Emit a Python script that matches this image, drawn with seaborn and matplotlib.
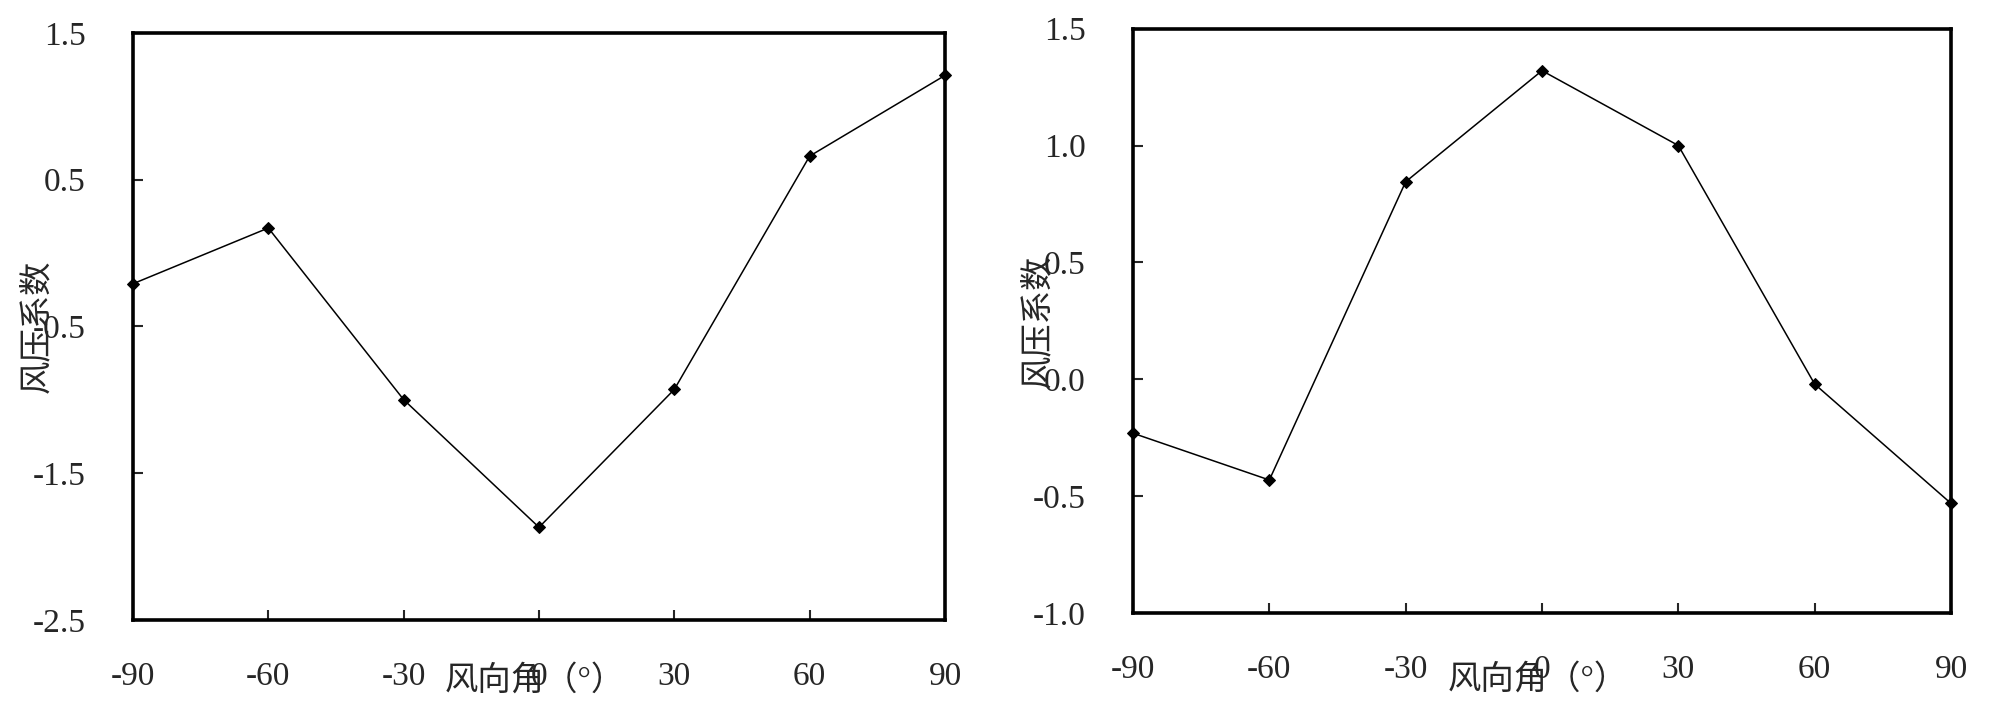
import numpy as np
import pandas as pd
import seaborn as sns
import matplotlib.pyplot as plt

# 风向角与风压系数 (两个测点)
angles = [-90, -60, -30, 0, 30, 60, 90]
cp_left = [-0.21, 0.17, -1.0, -1.87, -0.93, 0.66, 1.21]
cp_right = [-0.23, -0.43, 0.845, 1.32, 1.0, -0.02, -0.53]

left_yticks = [1.5, 0.5, -0.5, -1.5, -2.5]
left_yticklabels = ['1.5', '0.5', '-0.5', '-1.5', '-2.5']
right_yticks = [1.5, 1.0, 0.5, 0.0, -0.5, -1.0]
right_yticklabels = ['1.5', '1.0', '0.5', '0.0', '-0.5', '-1.0']

sns.set_style('ticks')
plt.rcParams['font.family'] = ['Liberation Serif', 'Noto Sans CJK SC', 'DejaVu Sans']

fig = plt.figure(figsize=(20, 7.14), dpi=100)
ax1 = fig.add_axes([0.0665, 0.132, 0.406, 0.822])
ax2 = fig.add_axes([0.5665, 0.141, 0.409, 0.819])

def draw(ax, y, yticks, yticklabels, ylim, xlab_pos, ylab_pos):
    df = pd.DataFrame({'angle': angles, 'cp': y})
    sns.lineplot(data=df, x='angle', y='cp', ax=ax, color='black', lw=1.1,
                 marker='D', markersize=6, markeredgecolor='black', clip_on=False)
    ax.set_xlim(-90, 90)
    ax.set_ylim(*ylim)
    ax.set_xticks(angles)
    ax.set_xticklabels([str(a) for a in angles])
    ax.set_yticks(yticks)
    ax.set_yticklabels(yticklabels)
    ax.tick_params(direction='in', length=7, width=1.5, labelsize=24)
    ax.tick_params(axis='x', pad=30)
    ax.tick_params(axis='y', pad=34)
    for s in ax.spines.values():
        s.set_linewidth(2.6)
        s.set_color('black')
    ax.set_xlabel('风向角（°）', fontsize=24)
    ax.set_ylabel('风压系数', fontsize=24)
    ax.xaxis.set_label_coords(*xlab_pos)
    ax.yaxis.set_label_coords(*ylab_pos)

draw(ax1, cp_left, left_yticks, left_yticklabels, (-2.5, 1.5), (0.495, -0.077), (-0.098, 0.5))
draw(ax2, cp_right, right_yticks, right_yticklabels, (-1.0, 1.5), (0.495, -0.087), (-0.097, 0.5))

fig.savefig('out.png', dpi=100)
